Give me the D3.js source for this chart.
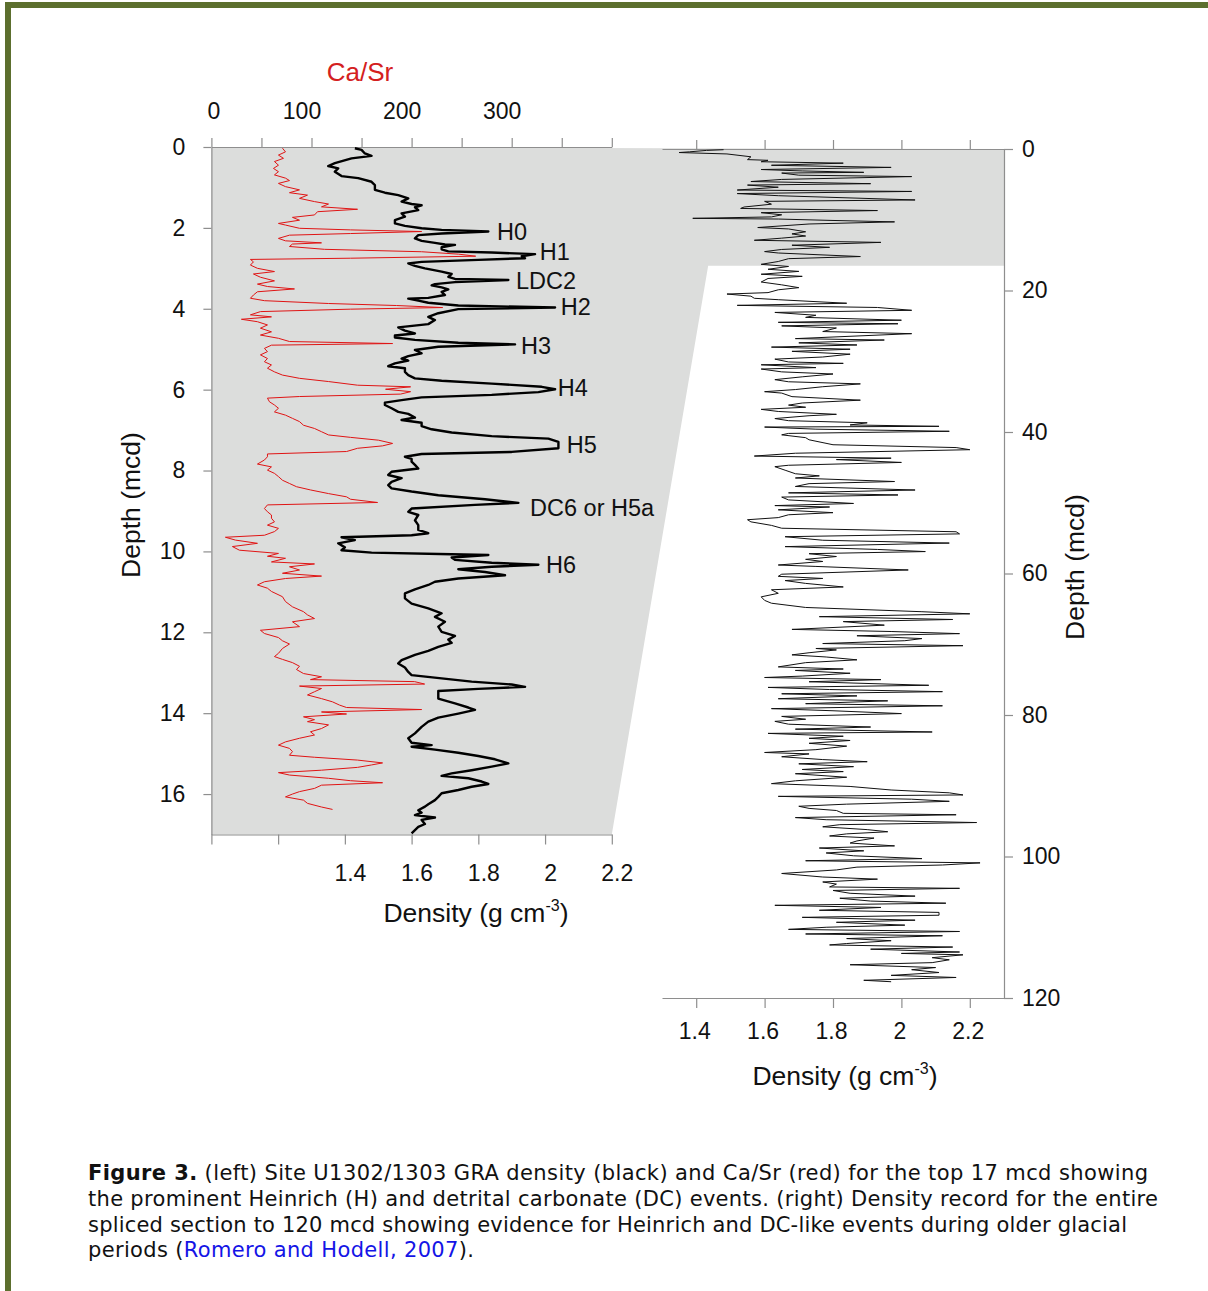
<!DOCTYPE html>
<html lang="en">
<head>
<meta charset="UTF-8">
<title>Site U1302/1303 density and Ca/Sr</title>
<script src="https://d3js.org/d3.v7.min.js"></script>
<style>
  body { margin: 0; background: #fff; }
  svg text { font-family: "Liberation Sans", Arial, sans-serif; fill: #111; }
  .axis path, .axis line { stroke: #8e8e8e; stroke-width: 1.2; }
  .axis text { font-size: 23px; fill: #111; }
</style>
</head>
<body>
<script>
// left panel: GRA density, [depth mcd, g/cm3]
const graTop = [
  [0.03,1.43],[0.07,1.45],[0.16,1.46],[0.22,1.48],[0.28,1.42],[0.40,1.37],[0.47,1.35],[0.53,1.38],[0.61,1.37],[0.72,1.39],
  [0.77,1.44],[0.86,1.48],[0.94,1.49],[1.06,1.49],[1.13,1.52],[1.19,1.56],[1.27,1.59],[1.35,1.57],[1.41,1.60],[1.44,1.63],
  [1.49,1.61],[1.56,1.62],[1.64,1.57],[1.72,1.58],[1.81,1.55],[1.89,1.55],[1.95,1.58],[2.01,1.63],[2.05,1.69],[2.09,1.83],
  [2.14,1.69],[2.18,1.62],[2.26,1.61],[2.32,1.63],[2.37,1.67],[2.41,1.70],[2.42,1.73],[2.48,1.69],[2.53,1.69],[2.58,1.71],
  [2.61,1.84],[2.65,1.97],[2.70,1.93],[2.75,1.94],[2.79,1.80],[2.84,1.63],[2.88,1.59],[2.94,1.61],[3.00,1.64],[3.08,1.69],
  [3.14,1.72],[3.21,1.71],[3.26,1.73],[3.29,1.89],[3.34,1.73],[3.39,1.67],[3.42,1.66],[3.47,1.69],[3.52,1.71],[3.58,1.69],
  [3.66,1.70],[3.73,1.65],[3.75,1.59],[3.80,1.62],[3.85,1.65],[3.92,1.74],[3.97,2.03],[4.01,1.74],[4.11,1.68],[4.20,1.65],
  [4.28,1.67],[4.38,1.65],[4.46,1.56],[4.54,1.58],[4.61,1.61],[4.66,1.55],[4.71,1.55],[4.77,1.61],[4.84,1.74],[4.88,1.91],
  [4.94,1.68],[5.02,1.61],[5.10,1.63],[5.17,1.59],[5.23,1.57],[5.28,1.59],[5.35,1.55],[5.42,1.53],[5.47,1.58],[5.56,1.58],
  [5.64,1.59],[5.72,1.61],[5.78,1.69],[5.85,1.84],[5.93,1.99],[5.99,2.03],[6.06,1.98],[6.13,1.84],[6.19,1.63],[6.26,1.57],
  [6.32,1.52],[6.38,1.52],[6.46,1.54],[6.55,1.56],[6.60,1.59],[6.69,1.61],[6.75,1.57],[6.82,1.63],[6.90,1.63],[6.98,1.66],
  [7.06,1.72],[7.15,1.84],[7.21,2.01],[7.29,2.04],[7.37,2.04],[7.45,2.04],[7.54,1.90],[7.59,1.63],[7.66,1.58],[7.71,1.60],
  [7.78,1.60],[7.86,1.61],[7.95,1.62],[8.03,1.54],[8.11,1.53],[8.19,1.57],[8.28,1.54],[8.36,1.53],[8.44,1.54],[8.52,1.60],
  [8.61,1.68],[8.71,1.82],[8.80,1.92],[8.85,1.79],[8.94,1.60],[9.02,1.59],[9.10,1.62],[9.23,1.61],[9.35,1.62],[9.47,1.62],
  [9.55,1.65],[9.60,1.60],[9.65,1.39],[9.72,1.43],[9.80,1.38],[9.90,1.40],[9.97,1.39],[10.03,1.48],[10.07,1.72],[10.09,1.83],
  [10.15,1.72],[10.21,1.73],[10.28,1.84],[10.33,1.98],[10.38,1.84],[10.44,1.74],[10.51,1.82],[10.59,1.88],[10.67,1.74],[10.75,1.67],
  [10.83,1.65],[10.94,1.61],[11.04,1.58],[11.16,1.58],[11.29,1.60],[11.41,1.65],[11.53,1.69],[11.62,1.67],[11.74,1.70],[11.86,1.68],
  [11.99,1.69],[12.09,1.73],[12.18,1.71],[12.26,1.72],[12.36,1.68],[12.46,1.65],[12.56,1.61],[12.69,1.57],[12.77,1.56],[12.87,1.58],
  [12.98,1.59],[13.06,1.60],[13.14,1.69],[13.22,1.78],[13.29,1.90],[13.35,1.94],[13.40,1.80],[13.45,1.68],[13.51,1.68],[13.64,1.68],
  [13.76,1.73],[13.86,1.77],[13.92,1.79],[14.01,1.74],[14.11,1.68],[14.21,1.65],[14.34,1.63],[14.50,1.61],[14.62,1.59],[14.73,1.60],
  [14.79,1.66],[14.83,1.60],[14.90,1.67],[14.98,1.74],[15.06,1.80],[15.14,1.85],[15.24,1.89],[15.32,1.84],[15.41,1.78],[15.49,1.72],
  [15.55,1.69],[15.61,1.77],[15.69,1.81],[15.75,1.83],[15.82,1.78],[15.90,1.74],[15.98,1.69],[16.07,1.68],[16.15,1.67],[16.25,1.65],
  [16.31,1.64],[16.40,1.62],[16.46,1.63],[16.52,1.61],[16.58,1.67],[16.64,1.63],[16.74,1.64],[16.81,1.62],[16.89,1.61],[16.97,1.60]
];

// left panel: Ca/Sr, [depth mcd, ratio]
const caSr = [
  [0.03,71],[0.12,74],[0.20,67],[0.28,72],[0.36,63],[0.45,67],[0.53,62],[0.61,67],[0.69,63],[0.77,74],
  [0.83,78],[0.90,67],[0.98,74],[1.06,88],[1.13,78],[1.19,96],[1.27,88],[1.35,103],[1.41,117],[1.48,110],
  [1.54,146],[1.60,106],[1.68,103],[1.74,81],[1.81,88],[1.89,67],[1.93,74],[2.01,88],[2.05,139],[2.09,210],
  [2.14,139],[2.18,78],[2.26,67],[2.32,74],[2.37,110],[2.40,81],[2.46,78],[2.53,113],[2.59,210],[2.65,247],
  [2.70,264],[2.75,139],[2.78,39],[2.84,42],[2.92,39],[3.00,46],[3.08,63],[3.14,42],[3.22,49],[3.31,63],
  [3.39,46],[3.45,56],[3.51,83],[3.58,46],[3.66,42],[3.74,39],[3.80,53],[3.87,117],[3.92,185],[3.97,231],
  [4.01,139],[4.07,49],[4.15,39],[4.20,60],[4.26,30],[4.32,46],[4.40,56],[4.48,49],[4.57,60],[4.65,49],
  [4.73,67],[4.81,78],[4.86,181],[4.90,60],[4.98,53],[5.06,56],[5.14,49],[5.23,56],[5.31,53],[5.39,60],
  [5.47,56],[5.56,63],[5.64,71],[5.72,88],[5.80,117],[5.89,146],[5.93,199],[5.99,174],[6.05,199],[6.11,189],
  [6.17,88],[6.21,56],[6.30,58],[6.38,63],[6.46,67],[6.55,63],[6.63,74],[6.71,81],[6.79,88],[6.88,92],
  [6.96,103],[7.04,110],[7.12,117],[7.18,139],[7.25,167],[7.33,181],[7.39,171],[7.45,146],[7.53,135],[7.59,56],
  [7.66,56],[7.74,53],[7.84,46],[7.91,60],[7.99,56],[8.07,63],[8.15,67],[8.24,71],[8.32,78],[8.40,85],
  [8.48,99],[8.57,117],[8.65,135],[8.71,139],[8.79,166],[8.85,56],[8.94,53],[9.02,56],[9.10,60],[9.18,60],
  [9.27,63],[9.35,56],[9.43,67],[9.51,63],[9.60,53],[9.65,14],[9.72,24],[9.80,46],[9.88,21],[9.97,28],
  [10.05,67],[10.12,56],[10.17,74],[10.26,60],[10.31,103],[10.38,78],[10.46,88],[10.54,71],[10.61,110],[10.67,74],
  [10.75,53],[10.83,46],[10.91,56],[10.99,60],[11.12,71],[11.24,74],[11.37,81],[11.49,92],[11.57,96],[11.66,103],
  [11.74,81],[11.86,88],[11.95,49],[12.03,53],[12.13,67],[12.21,71],[12.29,78],[12.40,71],[12.52,67],[12.60,63],
  [12.67,71],[12.75,81],[12.84,88],[12.92,85],[13.02,92],[13.10,110],[13.17,99],[13.22,203],[13.28,213],[13.33,88],
  [13.39,110],[13.47,103],[13.55,96],[13.64,110],[13.72,121],[13.80,128],[13.86,135],[13.91,210],[13.97,110],[14.02,135],
  [14.09,92],[14.16,103],[14.21,96],[14.29,117],[14.38,110],[14.46,99],[14.54,103],[14.62,88],[14.71,74],[14.79,67],
  [14.87,78],[14.95,81],[15.04,78],[15.09,103],[15.16,146],[15.23,171],[15.28,160],[15.34,146],[15.41,110],[15.47,67],
  [15.53,78],[15.61,117],[15.67,139],[15.72,171],[15.78,110],[15.86,103],[15.94,88],[16.00,81],[16.07,74],[16.15,92],
  [16.23,96],[16.32,110],[16.38,121]
];

// right panel: density of the whole splice, [depth mcd, g/cm3]
const graFull = [
  [0.1,1.48],[0.2,1.43],[0.4,1.38],[0.5,1.35],[0.7,1.49],[1.1,1.56],[1.5,1.55],[1.6,1.61],[1.8,1.59],[2.0,1.83],
  [2.3,1.62],[2.6,1.97],[2.9,1.59],[3.1,1.71],[3.3,1.89],[3.4,1.65],[3.7,1.70],[3.9,2.03],[4.3,1.65],[4.6,1.56],
  [4.9,1.91],[5.1,1.55],[5.4,1.64],[5.8,1.52],[6.0,2.03],[6.3,1.52],[6.6,1.64],[7.2,2.04],[7.4,1.60],[7.8,1.62],
  [8.2,1.54],[8.4,1.53],[8.7,1.93],[9.0,1.59],[9.3,1.65],[9.6,1.62],[9.8,1.39],[9.9,1.64],[10.1,1.80],[10.3,1.98],
  [10.6,1.73],[11.1,1.58],[11.3,1.67],[11.7,1.72],[12.0,1.68],[12.3,1.72],[12.6,1.65],[12.9,1.57],[13.2,1.94],[13.6,1.68],
  [13.9,1.79],[14.2,1.65],[14.5,1.60],[14.7,1.64],[15.2,1.88],[15.5,1.67],[15.9,1.64],[16.3,1.59],[16.6,1.67],[17.0,1.61],
  [17.3,1.70],[17.7,1.59],[18.0,1.71],[18.3,1.61],[18.8,1.59],[19.2,1.65],[19.6,1.70],[19.9,1.64],[20.3,1.61],[20.5,1.49],
  [20.8,1.56],[21.1,1.57],[21.3,1.64],[21.8,1.84],[22.1,1.52],[22.4,1.93],[22.8,2.03],[23.1,1.63],[23.5,1.75],[23.8,1.72],
  [24.2,2.00],[24.5,1.64],[24.7,1.99],[25.0,1.65],[25.3,1.81],[25.8,1.77],[26.1,2.03],[26.8,1.69],[27.0,1.95],[27.4,1.70],
  [27.7,1.87],[28.0,1.62],[28.3,1.85],[28.6,1.68],[29.0,1.85],[29.4,1.77],[29.7,1.63],[30.1,1.67],[30.3,1.83],[30.5,1.59],
  [30.9,1.75],[31.1,1.59],[31.5,1.65],[31.8,1.80],[32.2,1.71],[32.6,1.63],[32.9,1.67],[33.2,1.88],[33.6,1.77],[34.0,1.69],
  [34.3,1.60],[34.5,1.65],[35.0,1.68],[35.5,1.88],[35.9,1.71],[36.2,1.67],[36.5,1.72],[36.8,1.59],[37.1,1.64],[37.5,1.81],
  [37.7,1.73],[38.1,1.63],[38.4,1.67],[38.7,1.90],[39.0,1.85],[39.2,2.11],[39.3,1.60],[39.6,1.75],[39.9,2.14],[40.2,1.67],
  [40.4,1.65],[40.8,1.72],[41.1,1.73],[41.8,1.80],[42.2,2.16],[42.5,2.20],[43.0,1.69],[43.4,1.57],[43.7,1.97],[43.9,1.81],
  [44.3,2.00],[44.7,1.67],[44.9,1.63],[45.4,1.66],[45.9,1.69],[46.2,1.76],[46.5,1.69],[47.0,1.98],[47.3,1.73],[47.7,1.69],
  [48.2,2.04],[48.6,1.67],[48.9,1.99],[49.2,1.65],[49.6,1.67],[50.1,1.86],[50.4,1.63],[50.6,1.79],[51.0,1.64],[51.4,1.80],
  [51.7,1.67],[52.1,1.64],[52.4,1.55],[52.7,1.56],[53.2,1.62],[53.6,1.65],[54.1,2.16],[54.4,2.17],[54.8,1.66],[55.3,1.77],
  [55.7,2.14],[56.2,1.66],[56.6,1.93],[56.9,2.07],[57.2,1.73],[57.6,1.81],[58.0,1.72],[58.3,1.77],[58.8,1.64],[59.0,1.75],
  [59.5,2.02],[60.1,1.65],[60.4,1.64],[60.7,1.77],[61.0,1.66],[61.4,1.72],[61.9,1.83],[62.3,1.62],[62.8,1.64],[63.3,1.59],
  [63.8,1.60],[64.2,1.62],[64.8,1.72],[65.4,2.06],[65.7,2.20],[66.1,1.76],[66.5,2.15],[66.8,1.83],[67.3,1.95],[67.9,1.68],
  [68.2,1.97],[68.5,2.17],[68.8,1.87],[69.2,2.06],[69.5,2.01],[69.9,1.77],[70.2,2.18],[70.6,1.75],[70.8,1.81],[71.2,1.73],
  [71.5,1.68],[71.8,1.78],[72.2,1.87],[72.6,1.72],[73.2,1.64],[73.5,1.83],[73.7,1.69],[74.1,1.85],[74.5,1.71],[74.7,1.60],
  [75.0,1.94],[75.3,1.73],[75.8,2.08],[76.1,1.61],[76.4,1.79],[76.7,2.12],[77.0,1.65],[77.3,1.87],[77.7,1.64],[78.0,1.96],
  [78.4,1.72],[78.7,2.12],[79.1,1.62],[79.4,1.80],[79.8,2.00],[80.2,1.65],[80.6,1.72],[80.9,1.63],[81.3,1.67],[81.7,1.91],
  [82.0,1.69],[82.4,2.09],[82.6,1.61],[83.0,1.83],[83.3,1.73],[83.6,1.85],[84.0,1.73],[84.4,1.84],[84.9,1.75],[85.3,1.60],
  [85.5,1.73],[85.9,1.65],[86.3,1.77],[86.6,1.90],[86.9,1.70],[87.3,1.86],[87.7,1.71],[88.0,1.83],[88.3,1.69],[88.8,1.84],
  [89.3,1.69],[89.7,1.62],[90.1,1.85],[90.6,1.97],[91.0,2.14],[91.3,2.18],[91.5,1.64],[91.9,2.03],[92.2,2.14],[92.6,1.84],
  [92.9,1.70],[93.2,1.73],[93.5,1.81],[93.9,1.83],[94.1,2.16],[94.5,1.69],[94.8,1.78],[95.2,2.22],[95.5,1.82],[95.8,1.77],
  [96.2,1.90],[96.5,1.96],[96.8,1.84],[97.1,1.79],[97.4,1.92],[97.8,1.87],[98.1,1.85],[98.5,1.98],[98.8,1.76],[99.2,1.89],
  [99.5,1.78],[99.9,1.86],[100.3,2.06],[100.6,1.72],[100.9,2.23],[101.2,2.12],[101.5,1.87],[101.9,1.81],[102.4,1.65],[102.9,1.77],
  [103.2,1.93],[103.6,1.77],[103.9,1.81],[104.3,1.79],[104.5,2.17],[104.8,1.80],[105.2,1.85],[105.6,2.04],[105.9,1.82],[106.3,1.91],
  [106.6,2.13],[106.9,1.63],[107.2,1.94],[107.6,1.76],[107.9,2.11],[108.3,2.11],[108.6,1.71],[109.0,2.04],[109.3,1.81],[109.7,2.01],
  [110.0,1.78],[110.3,1.67],[110.6,2.17],[110.95,1.72],[111.2,2.12],[111.6,1.84],[111.9,1.97],[112.3,1.84],[112.5,1.79],[112.8,2.15],
  [113.1,1.91],[113.5,2.17],[113.7,2.00],[113.9,2.18],[114.3,2.09],[114.6,2.14],[115.0,2.09],[115.3,1.85],[115.7,2.10],[116.0,2.03],
  [116.4,2.11],[116.8,1.97],[117.1,2.16],[117.5,1.89],[117.7,1.97]
];

// event labels: name, depth, density where the label starts
const eventNames = ["H0", "H1", "LDC2", "H2", "H3", "H4", "H5", "DC6 or H5a", "H6"];
const eventDepths = [2.10, 2.60, 3.31, 3.96, 4.92, 5.96, 7.37, 8.93, 10.34];
const eventDens = [1.856, 1.984, 1.913, 2.047, 1.928, 2.038, 2.065, 1.955, 2.003];

const leftDepthTicks = [0, 2, 4, 6, 8, 10, 12, 14, 16];
const leftDensTicks = [1.0, 1.2, 1.4, 1.6, 1.8, 2.0, 2.2];
const caSrTicks = [0, 50, 100, 150, 200, 250, 300, 350, 400];
const caSrLabels = [0, 100, 200, 300];
const rightDepthTicks = [0, 20, 40, 60, 80, 100, 120];
const rightDensTicks = [1.4, 1.6, 1.8, 2.0, 2.2];
const zoomDepth = 16.5;      // bottom of the shaded band on the right panel
const zoomEdgeDens = 1.435;  // where the slanted edge meets that band

const captionLines = [
  ["Figure 3.", " (left) Site U1302/1303 GRA density (black) and Ca/Sr (red) for the top 17 mcd showing"],
  ["", "the prominent Heinrich (H) and detrital carbonate (DC) events. (right) Density record for the entire"],
  ["", "spliced section to 120 mcd showing evidence for Heinrich and DC-like events during older glacial"],
  ["", "periods (", "Romero and Hodell, 2007", ")."]
];
const captionWidths = [1060, 1070, 1039, 386];

const W = 1208, H = 1291;
const svg = d3.select("body").append("svg").attr("width", W).attr("height", H);

// olive frame
svg.append("rect").attr("x", 5).attr("y", 2).attr("width", W - 5).attr("height", 6).attr("fill", "#5c6f2e");
svg.append("rect").attr("x", 5).attr("y", 2).attr("width", 6).attr("height", H).attr("fill", "#5c6f2e");

const xL = d3.scaleLinear().domain([1.0, 2.2]).range([211.4, 611.8]);
const xCa = d3.scaleLinear().domain([0, 400]).range([211.4, 611.8]);
const yL = d3.scaleLinear().domain([0, 17]).range([147, 834.5]);
const xR = d3.scaleLinear().domain([1.3, 2.3]).range([662, 1004]);
const yR = d3.scaleLinear().domain([0, 120]).range([149, 998]);

// shaded area: left panel plus the connector to the top 17 m of the right panel
const shade = [
  [xL(1.0), yL(0)], [xR(2.3), yR(0)], [xR(2.3), yR(zoomDepth)], [xR(zoomEdgeDens), yR(zoomDepth)],
  [xL(2.2), yL(17)], [xL(1.0), yL(17)]
];
svg.append("polygon").attr("points", shade.map(p => p.join(",")).join(" ")).attr("fill", "#dcdddc");

// left axes
svg.append("g").attr("class", "axis").attr("transform", `translate(${xL(1.0)},0)`)
  .call(d3.axisLeft(yL).tickValues(leftDepthTicks).tickSize(8).tickSizeOuter(0).tickPadding(18));
svg.append("g").attr("class", "axis").attr("transform", `translate(0,${yL(0)})`)
  .call(d3.axisTop(xCa).tickValues(caSrTicks).tickSize(9).tickSizeOuter(0).tickPadding(19)
    .tickFormat(d => caSrLabels.includes(d) ? d : ""))
  .selectAll("text").attr("dx", d => d === 0 ? 2 : -10);
svg.append("g").attr("class", "axis").attr("transform", `translate(0,${yL(17)})`)
  .call(d3.axisBottom(xL).tickValues(leftDensTicks).tickSize(10).tickSizeOuter(0).tickPadding(20)
    .tickFormat(d => d < 1.3 ? "" : d3.format("~g")(d)))
  .selectAll("text").attr("dx", 5);

// right axes
svg.append("g").attr("class", "axis").attr("transform", `translate(0,${yR(0)})`)
  .call(d3.axisTop(xR).tickValues(rightDensTicks).tickSize(9).tickSizeOuter(0).tickFormat(""));
svg.append("g").attr("class", "axis").attr("transform", `translate(${xR(2.3)},0)`)
  .call(d3.axisRight(yR).tickValues(rightDepthTicks).tickSize(9).tickSizeOuter(0).tickPadding(9));
svg.append("g").attr("class", "axis").attr("transform", `translate(0,${yR(120)})`)
  .call(d3.axisBottom(xR).tickValues(rightDensTicks).tickSize(10).tickSizeOuter(0).tickPadding(15)
    .tickFormat(d3.format("~g")))
  .selectAll("text").attr("dx", -2);

// traces
const lineL = d3.line().x(d => xL(d[1])).y(d => yL(d[0]));
const lineCa = d3.line().x(d => xCa(d[1])).y(d => yL(d[0]));
const lineR = d3.line().x(d => xR(d[1])).y(d => yR(d[0]));

svg.append("path").attr("d", lineCa(caSr)).attr("fill", "none")
  .attr("stroke", "#e01414").attr("stroke-width", 1);
svg.append("path").attr("d", lineL(graTop)).attr("fill", "none")
  .attr("stroke", "#000").attr("stroke-width", 2.4).attr("stroke-linejoin", "round");
svg.append("path").attr("d", lineR(graFull)).attr("fill", "none")
  .attr("stroke", "#111").attr("stroke-width", 1);

// event labels
svg.append("g").selectAll("text").data(eventNames).join("text")
  .attr("x", (d, i) => xL(eventDens[i]))
  .attr("y", (d, i) => yL(eventDepths[i]))
  .attr("dy", "0.35em")
  .style("font-size", "23.5px")
  .text(d => d);

// axis titles
svg.append("text").attr("x", 360).attr("y", 81).attr("text-anchor", "middle")
  .style("font-size", "26px").style("fill", "#d42020").text("Ca/Sr");
svg.append("text").attr("transform", "translate(140,505) rotate(-90)").attr("text-anchor", "middle")
  .style("font-size", "26.5px").text("Depth (mcd)");
svg.append("text").attr("transform", "translate(1084,567) rotate(-90)").attr("text-anchor", "middle")
  .style("font-size", "26.5px").text("Depth (mcd)");

function densityTitle(x, y) {
  const t = svg.append("text").attr("x", x).attr("y", y).attr("text-anchor", "middle").style("font-size", "26.5px");
  t.append("tspan").text("Density (g cm");
  t.append("tspan").attr("dy", -11).style("font-size", "16px").text("-3");
  t.append("tspan").attr("dy", 11).text(")");
}
densityTitle(476, 922);
densityTitle(845, 1085);

// caption
const cap = svg.append("g").style("font-size", "21px");
captionLines.forEach((parts, i) => {
  const t = cap.append("text").attr("x", 88).attr("y", 1180 + i * 25.8)
    .attr("textLength", captionWidths[i]).attr("lengthAdjust", "spacing")
    .style("font-family", "'DejaVu Sans', Verdana, sans-serif");
  parts.forEach((p, j) => {
    if (!p) return;
    const s = t.append("tspan").text(p);
    if (i === 0 && j === 0) s.style("font-weight", "bold");
    if (i === 3 && j === 2) s.style("fill", "#1414e6");
  });
});
</script>
</body>
</html>
